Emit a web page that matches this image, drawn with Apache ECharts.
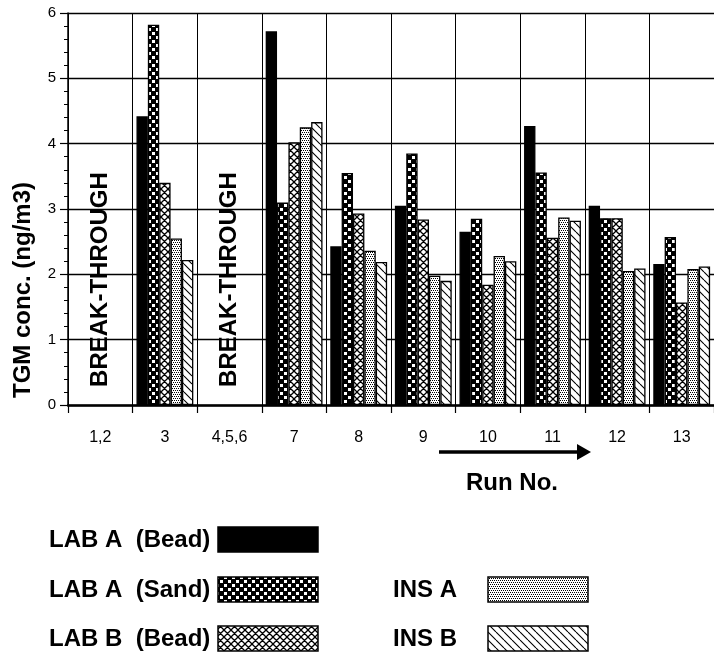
<!DOCTYPE html>
<html>
<head>
<meta charset="utf-8">
<script src="https://cdn.jsdelivr.net/npm/echarts@6/dist/echarts.min.js"></script>
<style>
html,body{margin:0;padding:0;background:#fff;}
#chart{width:714px;height:656px;}
</style>
</head>
<body>
<div id="chart"></div>
<script>
const categories = ['1,2','3','4,5,6','7','8','9','10','11','12','13'];
const yTicks = [0,1,2,3,4,5,6];
const labABead = [null,4.42,null,5.72,2.43,3.05,2.65,4.27,3.05,2.16];
const labASand = [null,5.82,null,3.10,3.55,3.85,2.85,3.56,2.86,2.57];
const labBBead = [null,3.40,null,4.02,2.93,2.84,1.84,2.56,2.86,1.57];
const insA     = [null,2.55,null,4.25,2.36,1.98,2.28,2.87,2.05,2.08];
const insB     = [null,2.22,null,4.33,2.19,1.90,2.20,2.82,2.09,2.12];
const seriesNames = ['LAB A  (Bead)','LAB A  (Sand)','LAB B  (Bead)','INS A','INS B'];
const breakCats = ['1,2','4,5,6'];
const breakText = 'BREAK-THROUGH';

function makeTile(size, draw){
  const c = document.createElement('canvas');
  c.width = size; c.height = size;
  const ctx = c.getContext('2d');
  ctx.fillStyle = '#fff'; ctx.fillRect(0,0,size,size);
  ctx.fillStyle = '#000';
  ctx.strokeStyle = '#000';
  draw(ctx, size);
  return c;
}
const solid = '#000';
const checker = makeTile(8,(ctx)=>{
  ctx.fillRect(0,0,8,8);
  ctx.fillStyle='#fff';
  ctx.fillRect(0,0,3,3); ctx.fillRect(4,4,3,3);
});
const cross = makeTile(7,(ctx,s)=>{
  ctx.lineWidth = 1.3;
  ctx.beginPath();
  for(let k=-1;k<=1;k++){
    ctx.moveTo(k*s, 0); ctx.lineTo(k*s+s, s);
    ctx.moveTo(k*s, s); ctx.lineTo(k*s+s, 0);
  }
  ctx.stroke();
});
const dots = makeTile(4,(ctx)=>{
  ctx.fillRect(0,0,1,1); ctx.fillRect(2,0,1,1); ctx.fillRect(1,2,1,1); ctx.fillRect(3,2,1,1);
});
const diag = makeTile(8,(ctx,s)=>{
  ctx.lineWidth = 1.1;
  ctx.beginPath();
  for(let k=-1;k<=1;k++){ ctx.moveTo(k*s,0); ctx.lineTo(k*s+s,s); }
  ctx.stroke();
});
const fills = [solid,
  {image:checker, repeat:'repeat'},
  {image:cross, repeat:'repeat'},
  {image:dots, repeat:'repeat'},
  {image:diag, repeat:'repeat'}];
const dataSets = [labABead,labASand,labBBead,insA,insB];

const FONT = '"Liberation Sans", Arial, Helvetica, sans-serif';

const chart = echarts.init(document.getElementById('chart'), null, {renderer:'canvas'});

const barSeries = dataSets.map((d,i)=>({
  name: seriesNames[i],
  type:'bar',
  data: d.map(v=> v==null ? '-' : v),
  barGap:'0%',
  barCategoryGap:'12%',
  itemStyle:{color: fills[i], borderColor:'#000', borderWidth:1.3},
  emphasis:{disabled:true},
  z:3
}));

const breakSeries = {
  type:'scatter',
  data: breakCats.map(c=>[c,1.92]),
  symbolSize:0,
  itemStyle:{color:'#000', opacity:1},
  label:{show:true, position:'inside', rotate:90, formatter: breakText,
    color:'#000', opacity:1, textBorderWidth:0, fontSize:24, fontWeight:'bold', fontFamily:FONT},
  emphasis:{disabled:true},
  z:4,
  silent:true
};

function legendRow(text, tx, sx, y, fill){
  return [
    {type:'text', x:tx, y:y+13, style:{text:text, fill:'#000', font:'bold 24px '+FONT,
      textAlign:'left', textVerticalAlign:'middle', align:'left', verticalAlign:'middle'}},
    {type:'rect', shape:{x:sx, y:y, width:100, height:25},
      style:{fill:fill, stroke:'#000', lineWidth:1.5}}
  ];
}

const graphics = [
  {type:'text', x:23, y:290, rotation:Math.PI/2,
    style:{text:'TGM conc. (ng/m3)', fill:'#000', font:'bold 24px '+FONT,
      textAlign:'center', textVerticalAlign:'middle', align:'center', verticalAlign:'middle'}},
  {type:'line', shape:{x1:439, y1:452, x2:580, y2:452}, style:{stroke:'#000', lineWidth:3.5}},
  {type:'polygon', shape:{points:[[577,444],[591,452],[577,460]]}, style:{fill:'#000'}},
  {type:'text', x:512, y:483,
    style:{text:'Run No.', fill:'#000', font:'bold 24px '+FONT,
      textAlign:'center', textVerticalAlign:'middle', align:'center', verticalAlign:'middle'}},
  ...legendRow(seriesNames[0], 49, 218, 527, fills[0]),
  ...legendRow(seriesNames[1], 49, 218, 577, fills[1]),
  ...legendRow(seriesNames[2], 49, 218, 626, fills[2]),
  ...legendRow(seriesNames[3], 393, 488, 577, fills[3]),
  ...legendRow(seriesNames[4], 393, 488, 626, fills[4])
];

chart.setOption({
  animation:false,
  backgroundColor:'#fff',
  grid:{left:68, top:13, width:650, height:392, containLabel:false},
  xAxis:{
    type:'category',
    data:categories,
    boundaryGap:true,
    axisLine:{show:true, lineStyle:{color:'#000', width:2.5}},
    axisTick:{show:true, length:8, lineStyle:{color:'#000', width:1.2}},
    axisLabel:{color:'#000', fontSize:16, margin:25, fontFamily:FONT, interval:0},
    splitLine:{show:true, interval:0, lineStyle:{color:'#000', width:1}},
    z:5
  },
  yAxis:{
    type:'value',
    min:yTicks[0], max:yTicks[yTicks.length-1], interval:1,
    axisLine:{show:true, lineStyle:{color:'#000', width:1.5}},
    axisTick:{show:true, length:8, lineStyle:{color:'#000', width:1.2}},
    minorTick:{show:true, splitNumber:5, length:4, lineStyle:{color:'#000', width:1}},
    axisLabel:{color:'#000', fontSize:15, margin:12, fontFamily:FONT},
    splitLine:{show:true, lineStyle:{color:'#000', width:1.3}}
  },
  series:[...barSeries, breakSeries],
  graphic: graphics
});
</script>
</body>
</html>
